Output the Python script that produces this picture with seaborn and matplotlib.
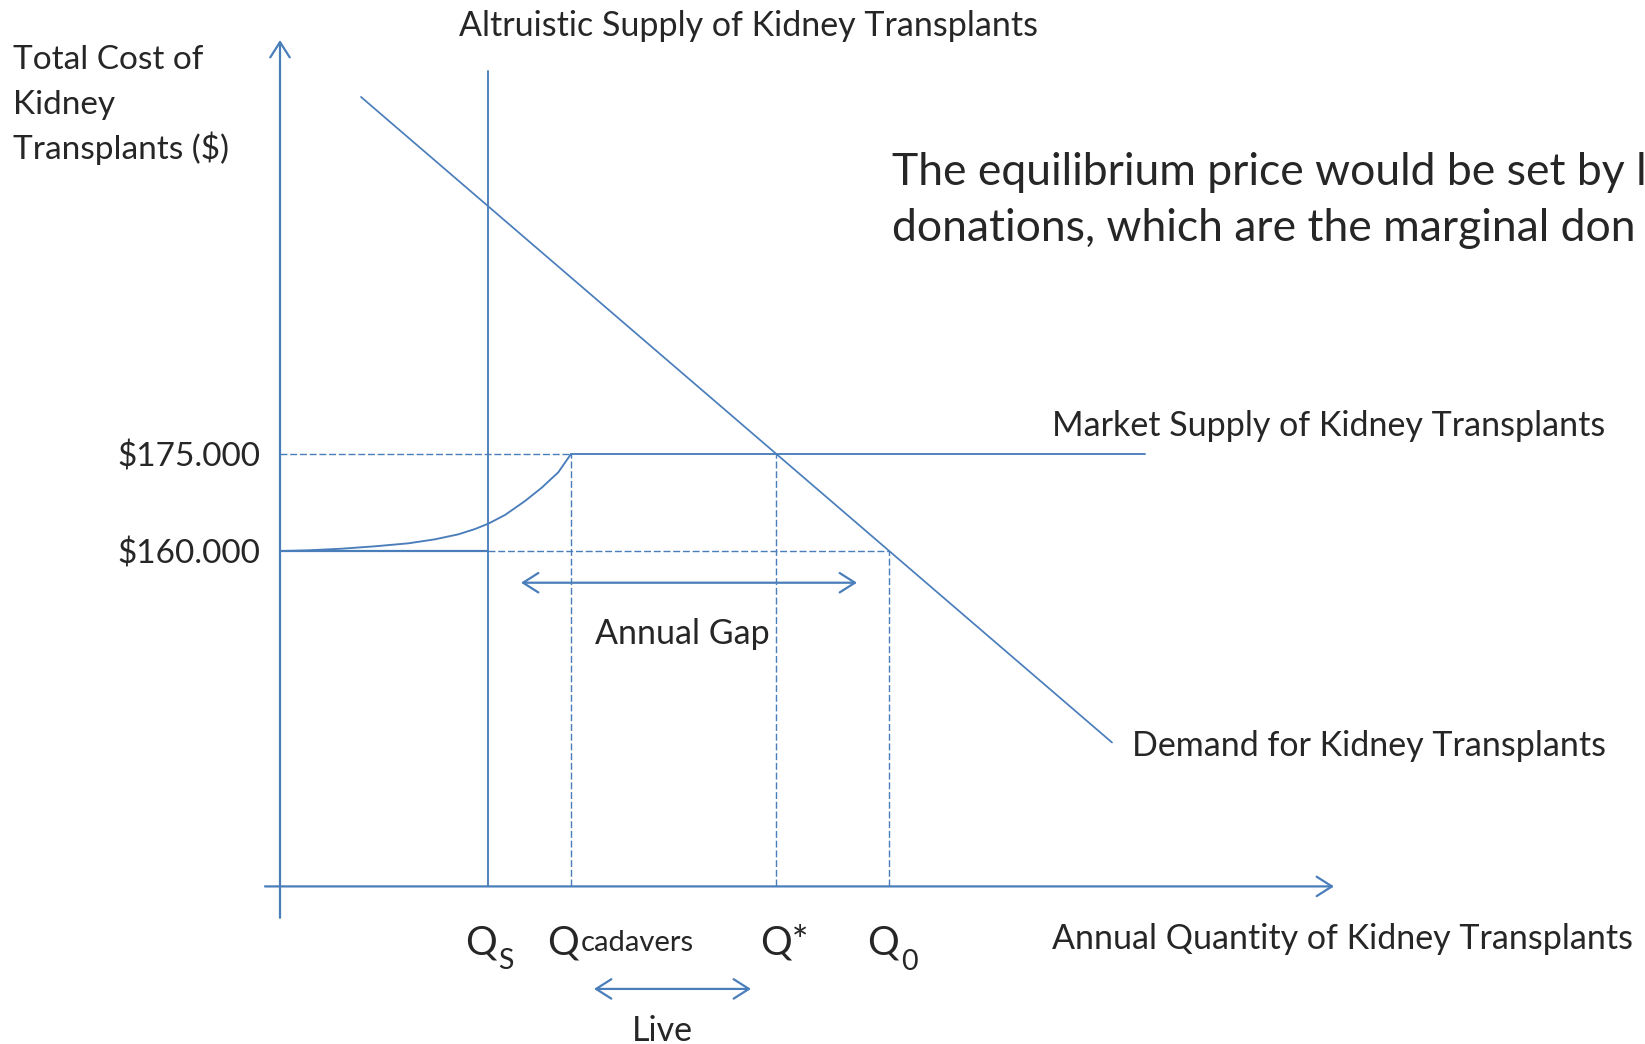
import matplotlib
matplotlib.use("Agg")
import matplotlib.pyplot as plt
import seaborn as sns
import pandas as pd

# ---------------- data (quantity in arbitrary units, price in $ thousands) ----------------
price_levels = [160.0, 175.0]
price_labels = ["$160.000", "$175.000"]
q_s = 20.8          # altruistic supply quantity
q_cadavers = 29.1   # cadaver supply quantity
q_star = 49.6       # market equilibrium quantity
q_zero = 60.9       # quantity demanded at $160.000
demand_q = [8.1, 83.2]
demand_p = [230.2, 130.4]
supply_curve_q = [0.17, 2.83, 6.17, 9.5, 12.83, 15.5, 17.83, 19.5, 20.83, 22.5, 24.5, 26.17, 27.83, 29.1]
supply_curve_p = [160.0, 160.11, 160.36, 160.73, 161.19, 161.81, 162.58, 163.4, 164.23, 165.57,
                  167.73, 169.79, 172.17, 175.0]
market_supply_end_q = 86.5
altruistic_top_p = 234.2
axis_q_range = [-1.5, 105.4]
axis_p_range = [103.3, 239.0]
axis_level_p = 108.15
gap_q = [24.1, 57.7]
gap_p = 155.1
live_q = [31.4, 47.1]
live_p = 92.3

# ---------------- layout helpers (pixel -> data) ----------------
def X(px):
    return (px - 280) / 10.0

def Y(py):
    return 175 + (454 - py) * 0.1546

BLUE = "#4A7EBB"
sns.set_theme(style="white")
plt.rcParams["font.family"] = ["Lato", "DejaVu Sans"]

fig = plt.figure(figsize=(16.45, 10.44), dpi=100)
ax = fig.add_axes([0, 0, 1, 1])
ax.set_xlim(X(0), X(1645))
ax.set_ylim(Y(1044), Y(0))
ax.axis("off")

p_low, p_high = price_levels

# axes with arrows
arrow_kw = dict(arrowstyle="->,head_length=0.55,head_width=0.35", color=BLUE, lw=1.6,
                shrinkA=0, shrinkB=0, mutation_scale=20)
ax.annotate("", xy=(0, axis_p_range[1]), xytext=(0, axis_p_range[0]), arrowprops=arrow_kw)
ax.annotate("", xy=(axis_q_range[1], axis_level_p), xytext=(axis_q_range[0], axis_level_p),
            arrowprops=arrow_kw)

# demand
demand_df = pd.DataFrame({"q": demand_q, "p": demand_p})
sns.lineplot(data=demand_df, x="q", y="p", ax=ax, color=BLUE, lw=1.25, sort=False)

# altruistic supply (vertical)
ax.plot([q_s, q_s], [axis_level_p, altruistic_top_p], color=BLUE, lw=1.35)

# supply curve + market supply horizontal
curve_df = pd.DataFrame({"q": supply_curve_q, "p": supply_curve_p})
sns.lineplot(data=curve_df, x="q", y="p", ax=ax, color=BLUE, lw=1.35, sort=False)
ax.plot([q_cadavers, market_supply_end_q], [p_high, p_high], color=BLUE, lw=1.35)

# $160 line: solid to Qs, dashed to Q0
ax.plot([0, q_s], [p_low, p_low], color=BLUE, lw=1.6)
dash = (0, (5, 2))
ax.plot([q_s, q_zero], [p_low, p_low], color=BLUE, lw=1.0, ls=dash)
ax.plot([0, q_cadavers], [p_high, p_high], color=BLUE, lw=1.0, ls=dash)

# dashed verticals
ax.plot([q_cadavers, q_cadavers], [axis_level_p, p_high], color=BLUE, lw=1.0, ls=dash)
ax.plot([q_star, q_star], [axis_level_p, p_high], color=BLUE, lw=1.0, ls=dash)
ax.plot([q_zero, q_zero], [axis_level_p, p_low], color=BLUE, lw=1.0, ls=dash)

# double arrows
darrow_kw = dict(arrowstyle="<->,head_length=0.55,head_width=0.35", color=BLUE, lw=1.6,
                 shrinkA=0, shrinkB=0, mutation_scale=20)
ax.annotate("", xy=(gap_q[1], gap_p), xytext=(gap_q[0], gap_p), arrowprops=darrow_kw)
ax.annotate("", xy=(live_q[1], live_p), xytext=(live_q[0], live_p), arrowprops=darrow_kw)

# ---------------- text ----------------
FS = 24.5
ax.text(X(13), Y(69), "Total Cost of", fontsize=FS - 0.5, ha="left", va="baseline")
ax.text(X(13), Y(114), "Kidney", fontsize=FS - 0.5, ha="left", va="baseline")
ax.text(X(13), Y(159), "Transplants ($)", fontsize=FS - 0.5, ha="left", va="baseline")
ax.text(X(459), Y(36), "Altruistic Supply of Kidney Transplants", fontsize=FS, ha="left", va="baseline")

for p, lab in zip(price_levels, price_labels):
    ax.text(X(260), p - 0.4, lab, fontsize=24, ha="right", va="center")

BF = 32
ax.text(X(892), Y(185), "The equilibrium price would be set by l", fontsize=BF, ha="left", va="baseline")
ax.text(X(892), Y(241), "donations, which are the marginal don", fontsize=BF, ha="left", va="baseline")

ax.text(X(1052), Y(436), "Market Supply of Kidney Transplants", fontsize=FS, ha="left", va="baseline")
ax.text(X(1132), Y(756), "Demand for Kidney Transplants", fontsize=FS, ha="left", va="baseline")
ax.text(X(1052), Y(949), "Annual Quantity of Kidney Transplants", fontsize=FS, ha="left", va="baseline")
ax.text(X(595), Y(644), "Annual Gap", fontsize=FS, ha="left", va="baseline")
ax.text(X(662), Y(1041), "Live", fontsize=FS, ha="center", va="baseline")

QF = 28.5
SF = 20.5
QB = Y(955)
ax.text(X(465), QB, "Q", fontsize=QF, ha="left", va="baseline")
ax.text(X(498), Y(969), "S", fontsize=SF, ha="left", va="baseline")
ax.text(X(547), QB, "Q", fontsize=QF, ha="left", va="baseline")
ax.text(X(581), Y(951), "cadavers", fontsize=21, ha="left", va="baseline")
ax.text(X(760), QB, "Q*", fontsize=QF, ha="left", va="baseline")
ax.text(X(867), QB, "Q", fontsize=QF, ha="left", va="baseline")
ax.text(X(901), Y(970), "0", fontsize=SF, ha="left", va="baseline")

fig.savefig("out.png", dpi=100, facecolor="white")
